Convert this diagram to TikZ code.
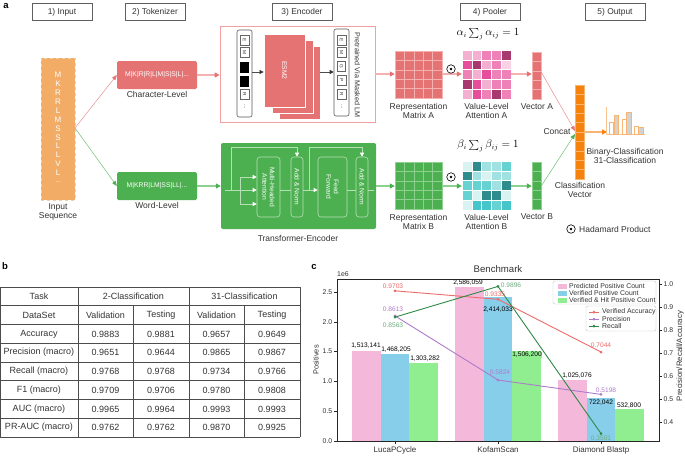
\documentclass[tikz,border=0pt]{standalone}
\usepackage{fontspec}
\setmainfont{Liberation Sans}
\usetikzlibrary{arrows.meta,calc}
\definecolor{salmon}{HTML}{E57373}
\definecolor{pinkline}{HTML}{F5B0B0}
\definecolor{pinkbord}{HTML}{F2A0A0}
\definecolor{grn}{HTML}{4CAF50}
\definecolor{grnline}{HTML}{8ED08F}
\definecolor{grnin}{HTML}{B5E0B6}
\definecolor{inorange}{HTML}{F2AC66}
\definecolor{orng}{HTML}{F5820D}
\definecolor{orngline}{HTML}{F9B471}
\definecolor{pA}{HTML}{F9D3E5}
\definecolor{pB}{HTML}{F4B0D1}
\definecolor{pC}{HTML}{EE82B8}
\definecolor{pD}{HTML}{E64D9A}
\definecolor{pE}{HTML}{A8396F}
\definecolor{tA}{HTML}{D9F3F3}
\definecolor{tB}{HTML}{A0E2E2}
\definecolor{tC}{HTML}{66D2D2}
\definecolor{tD}{HTML}{45C6CA}
\definecolor{tE}{HTML}{2F8C8C}
\definecolor{barpink}{HTML}{F4B8DA}
\definecolor{barblue}{HTML}{87CEEB}
\definecolor{bargreen}{HTML}{90EE90}
\definecolor{accred}{HTML}{EE6B6B}
\definecolor{precpur}{HTML}{AD7BCC}
\definecolor{recgrn}{HTML}{2E8A45}
\definecolor{txt}{HTML}{333333}
\begin{document}
\begin{tikzpicture}[x=1pt,y=-1pt,
  every node/.style={text=txt, inner sep=0},
  f7/.style={font=\fontsize{8.5}{9.6}\selectfont},
  f6/.style={font=\fontsize{6.6}{7.5}\selectfont},
  fl/.style={font=\fontsize{6.9}{7.5}\selectfont},
  tf/.style={font=\fontsize{9}{10}\selectfont},
  hdr/.style={draw=gray!75!black, line width=0.6, fill=white, minimum width=60, minimum height=17, font=\fontsize{8.4}{9}\selectfont},
  plab/.style={font=\fontsize{9.5}{10}\selectfont\bfseries, text=black},
  tokbox/.style={draw=gray!80!black, line width=0.5, fill=white, minimum width=10, minimum height=8.5, rotate=-90, font=\fontsize{4.8}{5}\selectfont},
  blk/.style={fill=black, minimum width=11, minimum height=9.5, rotate=-90},
  tinner/.style={draw=grnin, line width=0.6, rounded corners=3},
  ttext/.style={rotate=-90, align=center, text=white, font=\fontsize{6.7}{7.4}\selectfont},
  tl/.style={draw=grnin, line width=0.6},
  tla/.style={draw=grnin, line width=0.6, -{Triangle[length=4,width=4,color=white]}},
  parr/.style={draw=pinkline, line width=1.3, -{Triangle[length=5,width=5,color=salmon]}},
  garr/.style={draw=grnline, line width=1.3, -{Triangle[length=5,width=5,color=grn]}},
  pthin/.style={draw=salmon!80, line width=0.5, -{Triangle[length=5,width=4,color=salmon]}},
  gthin/.style={draw=grn!80, line width=0.5, -{Triangle[length=5,width=4,color=grn]}},
  odot/.style={circle, draw=black, line width=0.6, minimum size=8.5}
]
\useasboundingbox[fill=white] (0,0) rectangle (685,456);

% ---------------- panel a ----------------
\node[plab] (la) at (6,6) {a};
\node[hdr] (h1) at (62,12) {1) Input};
\node[hdr] (h2) at (155,12) {2) Tokenizer};
\node[hdr] (h3) at (302,12) {3) Encoder};
\node[hdr] (h4) at (490,12) {4) Pooler};
\node[hdr] (h5) at (615,12) {5) Output};

% input
\node[fill=inorange, draw=inorange!60, dashed, line width=0.6, minimum width=34, minimum height=142] (inp) at (58,129) {};
\foreach \l [count=\i] in {M,K,R,R,L,M,S,S,L,L,V,L}
  \node[text=white, font=\fontsize{8}{8}\selectfont] (il\i) at (58,{75+(\i-1)*8.9}) {\l};
\node[text=white, f6] (ildots) at (58,182) {...};
\node[f7, align=center] (inlab) at (58,212) {Input\\Sequence};

% tokenizer
\node[fill=salmon, rounded corners=1.5, minimum width=80, minimum height=28, text=white, font=\fontsize{6.8}{7}\selectfont] (chr) at (157,75) {M|K|R|R|L|M|S|S|L|...};
\node[f7] (chrlab) at (157,94) {Character-Level};
\node[fill=grn, rounded corners=1.5, minimum width=80, minimum height=28, text=white, font=\fontsize{6.8}{7}\selectfont] (wrd) at (157,186) {M|KRR|LM|SS|LL|...};
\node[f7] (wrdlab) at (157,205) {Word-Level};
\coordinate (insplit) at (75,128);
\draw[pthin] (insplit) -- (chr.west);
\draw[gthin] (insplit) -- (wrd.west);

% encoder (ESM2)
\node[draw=pinkbord, line width=0.8, fill=white, minimum width=155, minimum height=96] (enc) at (297.5,74) {};
\draw[parr] (chr.east) -- (enc.west |- chr.east);
\node[draw=gray!70!black, line width=0.6, rounded corners=2, minimum width=15, minimum height=87] (lcol) at (244.5,73.5) {};
\node[tokbox] (le) at (244.5,40) {E};
\node[tokbox] (lm) at (244.5,52.5) {M};
\node[blk] (lb1) at (244.5,67.5) {};
\node[blk] (lb2) at (244.5,81) {};
\node[tokbox] (lr) at (244.5,94.5) {R};
\node[font=\fontsize{5}{5}\selectfont, rotate=-90] (ld) at (244.5,107) {...};
\node[fill=salmon, draw=white, line width=0.8, minimum width=41, minimum height=73] (es3) at (299.5,82.5) {};
\node[fill=salmon, draw=white, line width=0.8, minimum width=41, minimum height=73] (es2) at (292.5,76.5) {};
\node[fill=salmon, draw=white, line width=0.8, minimum width=41, minimum height=73] (es1) at (284.5,70.5) {};
\node[text=white, rotate=-90, font=\fontsize{6.8}{7}\selectfont] (esl) at (es1.center) {ESM2};
\node[draw=gray!70!black, line width=0.6, rounded corners=2, minimum width=15, minimum height=87] (rcol) at (341.5,72.5) {};
\node[tokbox] (re) at (341.5,40) {E};
\node[tokbox] (rm) at (341.5,52.5) {M};
\node[tokbox, line width=0.9] (rg) at (341.5,66.5) {G};
\node[tokbox] (rp) at (341.5,80.5) {P};
\node[tokbox] (rr) at (341.5,94.5) {R};
\node[font=\fontsize{5}{5}\selectfont, rotate=-90] (rd) at (341.5,107) {...};
\draw[draw=gray!60!black, line width=0.6, -{Triangle[length=4,width=4,color=black!80]}] (lcol.east |- 0,72) -- (es1.west |- 0,72);
\draw[draw=gray!60!black, line width=0.6, -{Triangle[length=4,width=4,color=black!80]}] (es3.east |- 0,72) -- (rcol.west |- 0,72);
\node[rotate=-90, font=\fontsize{7.2}{8}\selectfont] (ptl) at (357.5,75) {Pretrained Via Masked LM};

% transformer encoder
\node[fill=grn, rounded corners=2, minimum width=155, minimum height=86] (tr) at (298.5,186) {};
\draw[garr] (wrd.east) -- (tr.west |- wrd.east);
\node[tinner, minimum width=23, minimum height=60] (mha) at (268.5,187) {};
\node[tinner, minimum width=12, minimum height=60] (an1) at (297,187) {};
\node[tinner, minimum width=29, minimum height=60] (ff) at (332.5,187) {};
\node[tinner, minimum width=12, minimum height=60] (an2) at (362,187) {};
\node[ttext] (mhat) at (mha.center) {Multi-Headed\\Attention};
\node[ttext] (an1t) at (an1.center) {Add \& Norm};
\node[ttext] (fft) at (ff.center) {Feed\\Forward};
\node[ttext] (an2t) at (an2.center) {Add \& Norm};
\coordinate (tin) at (225,190);
\coordinate (br) at (240,190);
\draw[tl] (tin) -- (br);
\draw[tla] (br) -- (mha.west |- br);
\draw[tl] (240,177) -- (240,204);
\draw[tla] (240,177) -- (mha.west |- 0,177);
\draw[tla] (240,204) -- (mha.west |- 0,204);
\draw[tla] (231,190) -- (231,147) -- (297,147) -- (an1.north);
\draw[tl] (mha.east |- br) -- (an1.west |- br);
\draw[tla] (an1.east |- br) -- (ff.west |- br);
\draw[tla] (309,190) -- (309,147) -- (362,147) -- (an2.north);
\draw[tl] (ff.east |- br) -- (an2.west |- br);
\draw[tl] (an2.east |- br) -- (374,190);
\node[f7] (trlab) at (298,238) {Transformer-Encoder};

% pooler: matrices
\node[minimum width=47, minimum height=47] (matA) at (418.5,74.5) {};
\node[minimum width=47, minimum height=47] (matB) at (418.5,185.5) {};
\foreach \r in {0,...,4} \foreach \k in {0,...,4} {
  \filldraw[fill=salmon, draw=pinkline, line width=0.5] ({395+\k*9.4},{51+\r*9.4}) rectangle ++(9.4,9.4);
  \filldraw[fill=grn, draw=grnline, line width=0.5] ({395+\k*9.4},{162+\r*9.4}) rectangle ++(9.4,9.4);
}
\node[f7, align=center] (matAl) at (418.5,111) {Representation\\Matrix A};
\node[f7, align=center] (matBl) at (418.5,222) {Representation\\Matrix B};
\draw[parr] (enc.east) -- (matA.west |- enc.east);
\draw[garr] (tr.east |- 0,186) -- (matB.west |- 0,186);

% attention
\node[minimum width=49, minimum height=49] (attA) at (486.5,74.5) {};
\node[minimum width=49, minimum height=49] (attB) at (486.5,185.5) {};
\foreach \row [count=\r] in {{pB,pB,pC,pC,pE},{pD,pE,pB,pC,pA},{pC,pB,pD,pC,pC},{pE,pD,pB,pC,pC},{pB,pD,pC,pE,pC}}
  \foreach \c [count=\k] in \row
    \filldraw[fill=\c, draw=white, line width=0.6] ({462+(\k-1)*9.8},{50+(\r-1)*9.8}) rectangle ++(9.8,9.8);
\foreach \row [count=\r] in {{tA,tE,tB,tB,tC},{tE,tB,tA,tB,tB},{tC,tC,tC,tB,tE},{tC,tA,tE,tE,tA},{tA,tD,tD,tC,tD}}
  \foreach \c [count=\k] in \row
    \filldraw[fill=\c, draw=white, line width=0.6] ({462+(\k-1)*9.8},{161+(\r-1)*9.8}) rectangle ++(9.8,9.8);
\node[f7, align=center] (attAl) at (486.5,111) {Value-Level\\Attention A};
\node[f7, align=center] (attBl) at (486.5,222) {Value-Level\\Attention B};
\node[font=\fontsize{10.5}{12}\selectfont, text=black] (fa) at (488,34) {$\alpha_i\textstyle\sum_j \alpha_{ij} = 1$};
\node[font=\fontsize{10.5}{12}\selectfont, text=black] (fb) at (488,146) {$\beta_i\textstyle\sum_j \beta_{ij} = 1$};
\draw[parr] (matA.east |- 0,74) -- (attA.west |- 0,74);
\draw[garr] (matB.east |- 0,186) -- (attB.west |- 0,186);
\node[odot] (od1) at (451,69) {};
\fill (od1.center) circle (1.3);
\node[odot] (od2) at (451,177) {};
\fill (od2.center) circle (1.3);

% vectors
\node[minimum width=9, minimum height=47] (vecA) at (536.5,75.5) {};
\node[minimum width=9, minimum height=47] (vecB) at (536.5,185.5) {};
\foreach \r in {0,...,4} {
  \filldraw[fill=salmon, draw=pinkline, line width=0.5] (532,{52+\r*9.4}) rectangle ++(9,9.4);
  \filldraw[fill=grn, draw=grnline, line width=0.5] (532,{162+\r*9.4}) rectangle ++(9,9.4);
}
\node[f7] (vecAl) at (537,107) {Vector A};
\node[f7] (vecBl) at (537,217) {Vector B};
\draw[parr] (attA.east |- 0,74) -- (vecA.west |- 0,74);
\draw[garr] (attB.east |- 0,186) -- (vecB.west |- 0,186);

% output
\node[minimum width=9, minimum height=94] (cls) at (579.5,132) {};
\foreach \r in {0,...,9}
  \filldraw[fill=orng, draw=orngline, line width=0.5] (575,{85+\r*9.4}) rectangle ++(9,9.4);
\coordinate (catA) at (575,131);
\coordinate (catB) at (575,134);
\draw[pthin] (vecA.east |- 0,72) -- (catA);
\draw[gthin] (vecB.east |- 0,186) -- (catB);
\node[f7] (concat) at (557,132) {Concat};
\node[f7, align=center] (clsl) at (580,190) {Classification\\Vector};
\coordinate (bico) at (607,132);
\draw[draw=orngline, line width=1.2, -{Triangle[length=5,width=5,color=orng]}] (cls.east |- bico) -- (bico);
\draw[draw=orngline!80, line width=0.6] (606,107) -- (606,134) -- (645,134);
\foreach \a/\b/\t in {609/613.5/122, 622/626.5/119, 634/638.5/126}
  \draw[draw=orngline, fill=white, line width=0.6] (\a,134) rectangle (\b,\t);
\foreach \a/\b/\t in {614/618.5/115, 626.5/631/112, 638.5/643/127}
  \draw[draw=orngline, fill=gray!35, line width=0.6] (\a,134) rectangle (\b,\t);
\node[f7, align=center] (outl) at (625,156) {Binary-Classification\\31-Classification};
\node[odot] (od3) at (571,229) {};
\fill (od3.center) circle (1.3);
\node[f7, anchor=west] (hadl) at (579,229) {Hadamard Product};

% ---------------- panel b ----------------
\node[plab] (lb) at (5,266) {b};
\foreach \yy in {287,305.75,324.5,343.25,362,380.75,399.5,418.25,437}
  \draw[gray!60!black, line width=0.6] (0,\yy) -- (300,\yy);
\draw[gray!60!black, line width=0.6] (0,287) -- (0,437);
\draw[gray!60!black, line width=0.9] (78,287) -- (78,437);
\draw[gray!60!black, line width=0.9] (189,287) -- (189,437);
\draw[gray!60!black, line width=0.9] (300,287) -- (300,437);
\draw[gray!60!black, line width=0.6] (133,305.75) -- (133,437);
\draw[gray!60!black, line width=0.6] (244,305.75) -- (244,437);
\node[tf] (tb0) at (39,296.4) {Task};
\node[tf] (tb1) at (133.5,296.4) {2-Classification};
\node[tf] (tb2) at (244.5,296.4) {31-Classification};
\foreach \a/\b/\c/\d/\e [count=\i] in {DataSet/Validation/Testing/Validation/Testing,
  Accuracy/0.9883/0.9881/0.9657/0.9649,
  Precision (macro)/0.9651/0.9644/0.9865/0.9867,
  Recall (macro)/0.9768/0.9768/0.9734/0.9766,
  F1 (macro)/0.9709/0.9706/0.9780/0.9808,
  AUC (macro)/0.9965/0.9964/0.9993/0.9993,
  PR-AUC (macro)/0.9762/0.9762/0.9870/0.9925} {
  \node[tf] (tr\i a) at (39,{296.4+\i*18.75}) {\a};
  \node[tf] (tr\i b) at (105.5,{296.4+\i*18.75}) {\b};
  \node[tf] (tr\i c) at (161,{296.4+\i*18.75}) {\c};
  \node[tf] (tr\i d) at (216.5,{296.4+\i*18.75}) {\d};
  \node[tf] (tr\i e) at (272,{296.4+\i*18.75}) {\e};
}

% ---------------- panel c ----------------
\node[plab] (lc) at (314,267) {c};
\node[font=\fontsize{9.6}{10}\selectfont] (ctitle) at (498,269) {Benchmark};
\node[fl] (c1e6) at (343,274) {1e6};
% bars
\fill[barpink] (352,441) rectangle (380.7,350.8);
\fill[barblue] (380.7,441) rectangle (409.3,353.5);
\fill[bargreen] (409.3,441) rectangle (438,363.3);
\fill[barpink] (455,441) rectangle (483.7,286.9);
\fill[barblue] (483.7,441) rectangle (512.3,297.1);
\fill[bargreen] (512.3,441) rectangle (541,351.2);
\fill[barpink] (558,441) rectangle (586.7,379.9);
\fill[barblue] (586.7,441) rectangle (615.3,398.0);
\fill[bargreen] (615.3,441) rectangle (644,409.2);
\node[f6, text=black] (b1) at (366,346) {1,513,141};
\node[f6, text=black] (b2) at (396,350) {1,468,205};
\node[f6, text=black] (b3) at (425,359) {1,303,282};
\node[f6, text=black] (b4) at (468,283) {2,586,059};
\node[f6, text=black] (b5) at (498,310) {2,414,033};
\node[f6, text=black, fill=bargreen, inner sep=0.5] (b6) at (527,355) {1,506,200};
\node[f6, text=black] (b7) at (577,376) {1,025,076};
\node[f6, text=black, fill=barblue, inner sep=0.5] (b8) at (601,403) {722,042};
\node[f6, text=black] (b9) at (629,405.5) {532,800};
% lines
\coordinate (a1) at (395,290.8); \coordinate (a2) at (498,299.3); \coordinate (a3) at (601,352.0);
\coordinate (p1) at (395,315.9); \coordinate (p2) at (498,380.0); \coordinate (p3) at (601,394.4);
\coordinate (r1) at (395,317.1); \coordinate (r2) at (498,286.4); \coordinate (r3) at (601,433.5);
\draw[accred, line width=0.9] (a1) -- (a2) -- (a3);
\draw[precpur, line width=0.9] (p1) -- (p2) -- (p3);
\draw[recgrn, line width=0.9] (r1) -- (r2) -- (r3);
\foreach \pt in {a1,a2,a3} \fill[accred] (\pt) circle (1.5);
\foreach \pt in {p1,p2,p3} \fill[precpur] (\pt) circle (1.5);
\foreach \pt in {r1,r2,r3} \fill[recgrn] (\pt) circle (1.5);
\node[f6, text=accred] (la1) at (393,286) {0.9703};
\node[f6, text=accred] (la2) at (495,294) {0.9335};
\node[f6, text=accred] (la3) at (601,345) {0.7044};
\node[f6, text=precpur] (lp1) at (393,309) {0.8613};
\node[f6, text=precpur] (lp2) at (500,372) {0.5824};
\node[f6, text=precpur] (lp3) at (606,390) {0.5198};
\node[f6, text=recgrn!70] (lr1) at (393,325) {0.8563};
\node[f6, text=recgrn!70] (lr2) at (511,285) {0.9896};
\node[f6, text=recgrn!70] (lr3) at (601,438) {0.3501};
% axes
\draw[black!85, line width=0.8] (337,279) rectangle (659,441);
\foreach \v/\l in {0/0.0,0.5/0.5,1/1.0,1.5/1.5,2/2.0,2.5/2.5} {
  \draw[black!85, line width=0.6] (334,{441-59.6*\v}) -- (337,{441-59.6*\v});
  \node[fl, anchor=east] at (332.5,{441-59.6*\v}) {\l};
}
\foreach \r in {0.4,0.5,0.6,0.7,0.8,0.9,1.0} {
  \draw[black!85, line width=0.6] (659,{514-230*\r}) -- (662,{514-230*\r});
  \node[fl, anchor=west] at (663.5,{514-230*\r}) {\r};
}
\foreach \xx/\l in {395/LucaPCycle,498/KofamScan,601/Diamond Blastp} {
  \draw[black!85, line width=0.6] (\xx,441) -- (\xx,444);
  \node[font=\fontsize{8}{9}\selectfont] at (\xx,450) {\l};
}
\node[font=\fontsize{7.4}{8}\selectfont, rotate=90] (ylab) at (316,360) {Positives};
\node[font=\fontsize{7.8}{8}\selectfont, rotate=90] (y2lab) at (680,356) {Precision/Recall/Accuracy};
% legends
\node[draw=gray!45, fill=white, rounded corners=1.5, minimum width=103, minimum height=23] (leg1) at (604.5,292.5) {};
\foreach \c/\t/\yy in {barpink/Predicted Positive Count/286, barblue/Verified Positive Count/293, bargreen/Verified \& Hit Positive Count/300} {
  \fill[\c] (558,{\yy-2.5}) rectangle (567,{\yy+2.5});
  \node[fl, anchor=west] at (569,\yy) {\t};
}
\node[draw=gray!45, fill=white, rounded corners=1.5, minimum width=70, minimum height=25] (leg2) at (621,318.5) {};
\foreach \c/\t/\yy in {accred/Verified Accuracy/312, precpur/Precision/319, recgrn/Recall/326} {
  \draw[\c, line width=0.9] (589,\yy) -- (599,\yy);
  \fill[\c] (594,\yy) circle (1.5);
  \node[fl, anchor=west] at (602,\yy) {\t};
}
\end{tikzpicture}
\end{document}
